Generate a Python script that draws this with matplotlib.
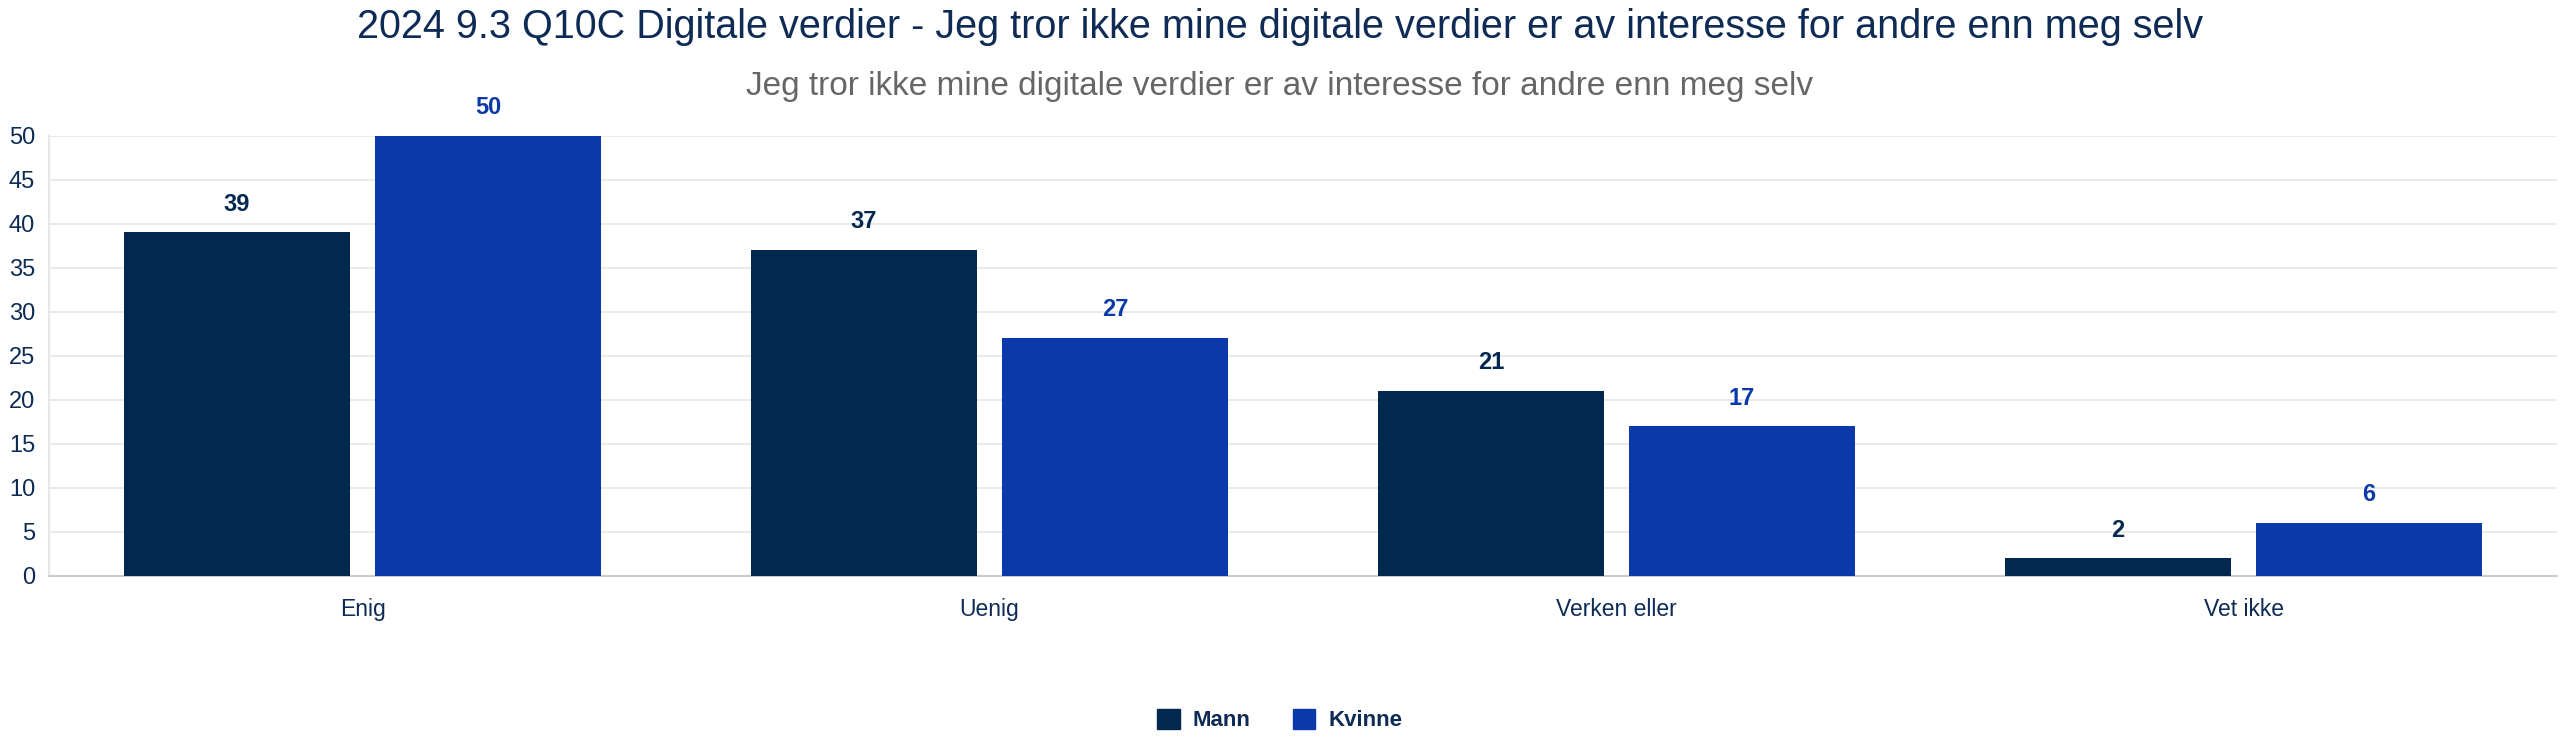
import matplotlib
matplotlib.use("Agg")
import matplotlib.pyplot as plt
import numpy as np
from matplotlib.patches import Patch

categories = ["Enig", "Uenig", "Verken eller", "Vet ikke"]
series_names = ["Mann", "Kvinne"]
mann = [39, 37, 21, 2]
kvinne = [50, 27, 17, 6]
yticks = [0, 5, 10, 15, 20, 25, 30, 35, 40, 45, 50]

title = "2024 9.3 Q10C Digitale verdier - Jeg tror ikke mine digitale verdier er av interesse for andre enn meg selv"
subtitle = "Jeg tror ikke mine digitale verdier er av interesse for andre enn meg selv"

colors = ["#03284f", "#0b39aa"]
navy = "#0d2b55"

plt.rcParams['font.family'] = ['Liberation Sans', 'DejaVu Sans']

fig = plt.figure(figsize=(25.6, 7.52), dpi=100)
ax = fig.add_axes([49/2560, 1-576/752, 2508/2560, (576-135.5)/752])

x = np.arange(len(categories))
bw = 0.36
offs = [-0.2, 0.2]
for vals, off, c in zip([mann, kvinne], offs, colors):
    bars = ax.bar(x + off, vals, width=bw, color=c, zorder=3)
    for b, v in zip(bars, vals):
        ax.annotate(str(v), (b.get_x() + b.get_width()/2, v), xytext=(0, 12),
                    textcoords="offset points", ha="center", va="bottom",
                    fontsize=17, fontweight="bold", color=c)

ax.set_xlim(-0.5, len(categories) - 0.5)
ax.set_ylim(0, 50)
ax.set_yticks(yticks)
ax.grid(axis="y", color="#e6e6e6", linewidth=1.2, zorder=0)
ax.set_axisbelow(True)
for s in ["top", "right"]:
    ax.spines[s].set_visible(False)
ax.spines["left"].set_color("#e6e6e6")
ax.spines["left"].set_linewidth(1.5)
ax.spines["bottom"].set_color("#cccccc")
ax.spines["bottom"].set_linewidth(1.5)
ax.tick_params(axis="y", length=0, labelsize=17, labelcolor=navy, pad=10)
ax.tick_params(axis="x", length=0, labelsize=16.5, labelcolor=navy, pad=16)
ax.set_xticks(x)
ax.set_xticklabels(categories)

fig.text(0.5, 1-27/752, title, ha="center", va="center", fontsize=28.5, color=navy)
fig.text(0.5, 1-86/752, subtitle, ha="center", va="center", fontsize=24, color="#666666")

handles = [Patch(facecolor=c, edgecolor=c) for c in colors]
fig.legend(handles, series_names, loc="center", bbox_to_anchor=(0.5, 1-720/752),
           ncol=2, frameon=False, prop={"weight": "bold", "size": 16},
           handlelength=1.0, handleheight=1.0, columnspacing=1.9, handletextpad=0.6,
           labelcolor=navy)

fig.savefig("out.png", dpi=100)
